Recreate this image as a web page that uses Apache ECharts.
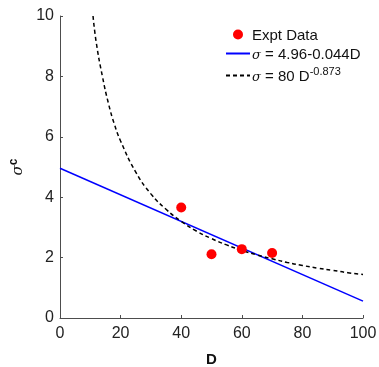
<!DOCTYPE html>
<html>
<head>
<meta charset="utf-8">
<script src="https://cdn.jsdelivr.net/npm/echarts@6/dist/echarts.min.js"></script>
<style>
html, body { margin: 0; padding: 0; background: #fff; }
#main { width: 379px; height: 367px; }
</style>
</head>
<body>
<div id="main"></div>
<script>
// experimental points
var exptD = [40, 50, 60, 70];
var exptSigma = [3.66, 2.11, 2.28, 2.15];

// linear fit, read at the ends of the axis
var linD = [0, 100];
var linSigma = [4.96, 0.56];

// power fit
var powD = [10.9, 12, 14, 16, 18, 20, 25, 30, 35, 40, 45, 50, 55, 60, 65, 70, 75, 80, 85, 90, 95, 100];
var powSigma = [10, 9.1, 8.0, 7.1, 6.4, 5.86, 4.83, 4.11, 3.6, 3.2, 2.88, 2.63, 2.42, 2.24, 2.09, 1.96, 1.84, 1.74, 1.65, 1.58, 1.5, 1.44];

function zip(a, b) {
	var r = [];
	for (var i = 0; i < a.length; i++) {
		r.push([a[i], b[i]]);
	}
	return r;
}

var font = 'Liberation Sans, Arial, sans-serif';
var serif = 'DejaVu Serif, serif';
var axisCol = '#4d4d4d';

var myChart = echarts.init(document.getElementById('main'));
var option = {
	animation: false,
	grid: { left: 60, right: 16, top: 16, bottom: 49, outerBoundsMode: 'none', containLabel: false },
	legend: {
		orient: 'vertical',
		left: 220,
		top: 23,
		itemGap: 4,
		itemWidth: 24,
		itemHeight: 10,
		data: [
			{ name: 'expt', icon: 'circle' },
			{ name: 'lin', itemStyle: { opacity: 0 } },
			{ name: 'pow', itemStyle: { opacity: 0 } }
		],
		formatter: function(name) {
			if (name === 'expt') return 'Expt Data';
			if (name === 'lin') return '{s|σ} = 4.96-0.044D';
			return '{s|σ} = 80 D{sup|-0.873}';
		},
		textStyle: {
			fontFamily: font,
			fontSize: 15,
			color: '#111',
			padding: [2, 0, 0, -3],
			rich: {
				s: { fontFamily: serif, fontStyle: 'italic', fontSize: 13, color: '#111', padding: [3, 0, 0, 0] },
				sup: { fontFamily: font, fontSize: 11, color: '#111', padding: [0, 0, 9, 0] }
			}
		}
	},
	xAxis: {
		type: 'value',
		min: 0, max: 100, interval: 20,
		name: 'D',
		nameLocation: 'middle',
		nameGap: 34,
		nameTextStyle: { fontFamily: font, fontSize: 15, fontWeight: 'bold', color: '#111' },
		axisLine: { lineStyle: { color: axisCol } },
		axisTick: { inside: true, length: 3, lineStyle: { color: axisCol } },
		axisLabel: { fontFamily: font, fontSize: 16, color: '#222', margin: 8 },
		splitLine: { show: false }
	},
	yAxis: {
		type: 'value',
		min: 0, max: 10, interval: 2,
		name: '{s|σ}{sup|c}',
		nameLocation: 'middle',
		nameGap: 21,
		nameRotate: 90,
		nameTextStyle: {
			color: '#111',
			rich: {
				s: { fontFamily: serif, fontStyle: 'italic', fontSize: 15, color: '#111' },
				sup: { fontFamily: font, fontSize: 12, fontWeight: 'bold', color: '#111', padding: [0, 0, 9, 0] }
			}
		},
		axisLine: { show: true, lineStyle: { color: axisCol } },
		axisTick: { show: true, inside: true, length: 3, lineStyle: { color: axisCol } },
		axisLabel: { fontFamily: font, fontSize: 16, color: '#222', margin: 6 },
		splitLine: { show: false }
	},
	series: [
		{
			name: 'expt',
			type: 'scatter',
			symbolSize: 10,
			itemStyle: { color: '#ff0000', opacity: 1 },
			data: zip(exptD, exptSigma),
			z: 5
		},
		{
			name: 'lin',
			type: 'line',
			showSymbol: false,
			symbol: 'none',
			lineStyle: { color: '#0000ff', width: 1.5 },
			itemStyle: { color: '#0000ff' },
			data: zip(linD, linSigma)
		},
		{
			name: 'pow',
			type: 'line',
			showSymbol: false,
			symbol: 'none',
			smooth: true,
			lineStyle: { color: '#000', width: 1.5, type: [4, 3] },
			itemStyle: { color: '#000' },
			data: zip(powD, powSigma)
		}
	]
};
myChart.setOption(option);
</script>
</body>
</html>
